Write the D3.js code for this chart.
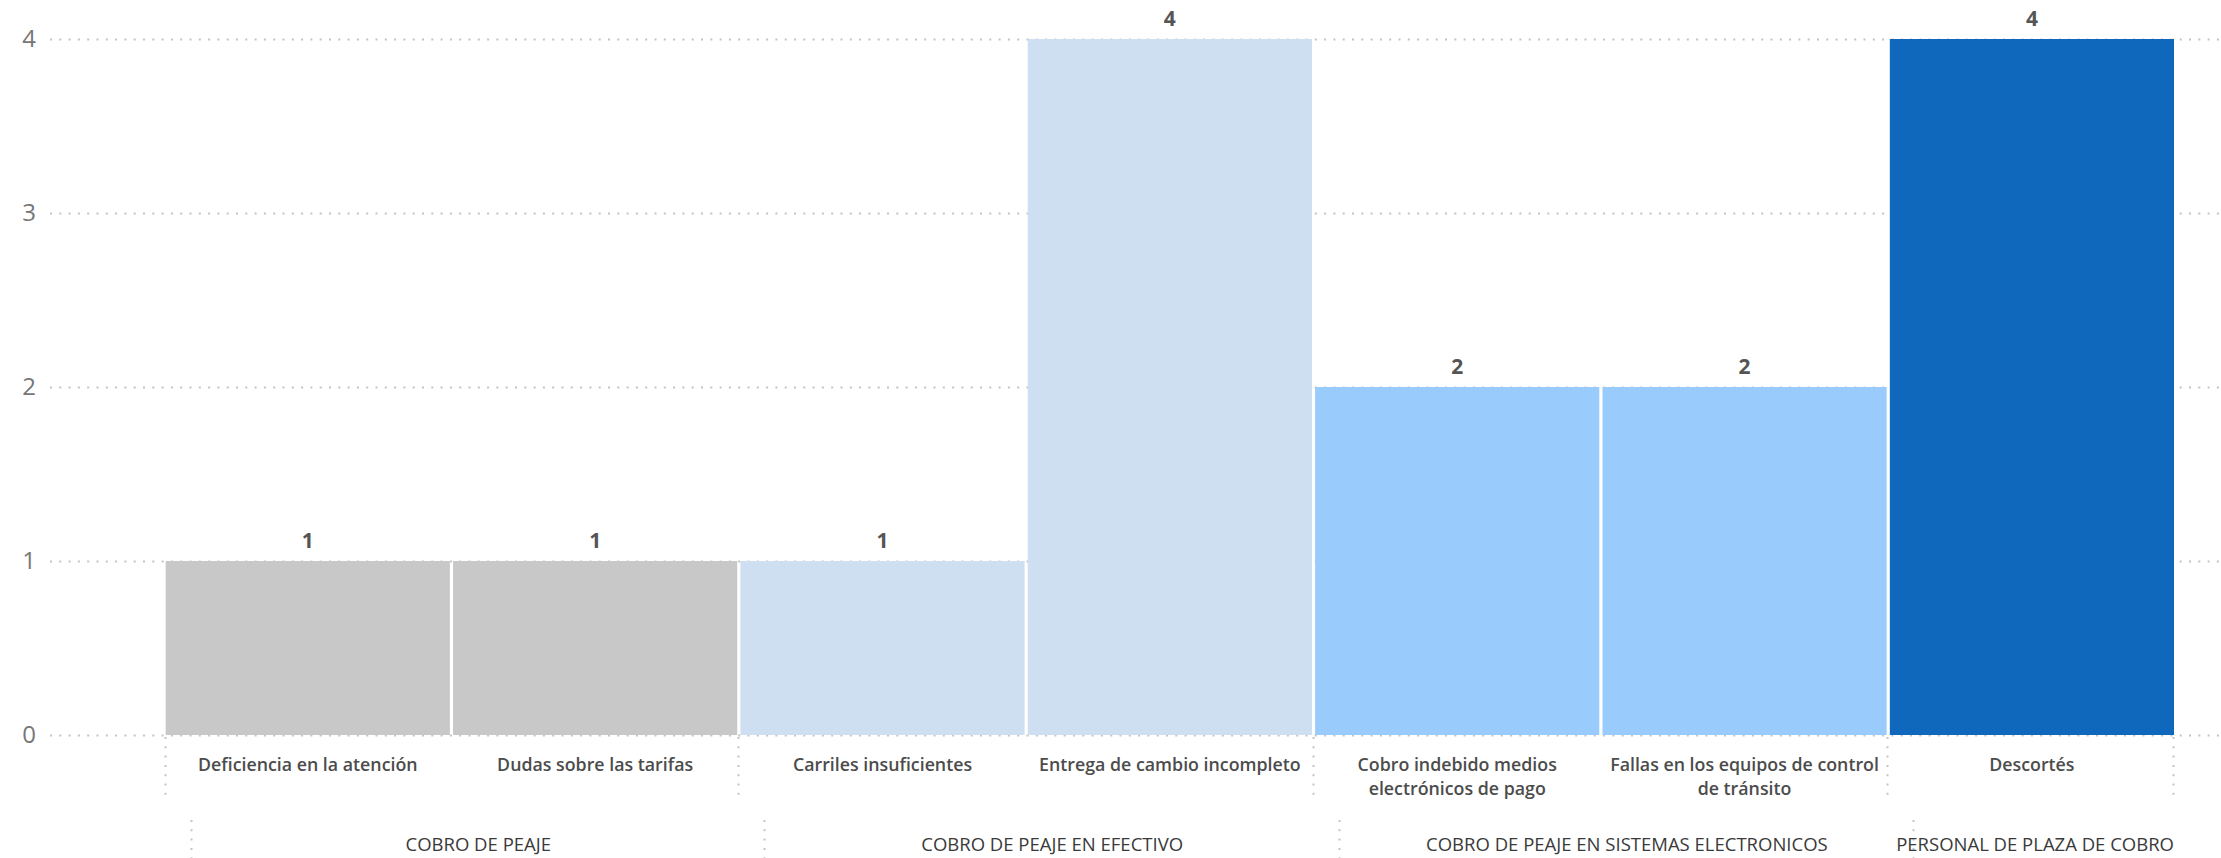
<!DOCTYPE html>
<html>
<head>
<meta charset="utf-8">
<script src="https://cdn.jsdelivr.net/npm/d3@7"></script>
<style>
  html, body { margin: 0; padding: 0; background: #ffffff; }
  svg { display: block; font-family: "Segoe UI", "Open Sans", "Noto Sans", sans-serif; }
</style>
</head>
<body>
<svg id="chart" width="2221" height="858"></svg>
<script>
// Complaint categories grouped by toll-collection area
const groups = [
  "COBRO DE PEAJE",
  "COBRO DE PEAJE EN EFECTIVO",
  "COBRO DE PEAJE EN SISTEMAS ELECTRONICOS",
  "PERSONAL DE PLAZA DE COBRO"
];
const categories = [
  "Deficiencia en la atención",
  "Dudas sobre las tarifas",
  "Carriles insuficientes",
  "Entrega de cambio incompleto",
  "Cobro indebido medios electrónicos de pago",
  "Fallas en los equipos de control de tránsito",
  "Descortés"
];
const categoryGroup = [0, 0, 1, 1, 2, 2, 3];
const values = [1, 1, 1, 4, 2, 2, 4];
const groupColors = ["#c8c8c8", "#cddff0", "#99cbfd", "#1068bd"];
const yTicks = [0, 1, 2, 3, 4];

// Two-line wrapping for the longer category names
const categoryLines = [
  ["Deficiencia en la atención"],
  ["Dudas sobre las tarifas"],
  ["Carriles insuficientes"],
  ["Entrega de cambio incompleto"],
  ["Cobro indebido medios", "electrónicos de pago"],
  ["Fallas en los equipos de control", "de tránsito"],
  ["Descortés"]
];

const svg = d3.select("#chart");
const plot = { left: 165.7, right: 2174, top: 39, bottom: 735 };

const x = d3.scaleBand()
  .domain(categories)
  .range([plot.left, plot.right])
  .paddingInner(0.011)
  .paddingOuter(0.0);

const y = d3.scaleLinear()
  .domain([0, 4])
  .range([plot.bottom, plot.top]);

const gridColor = "#c4c4c4";

// Horizontal dotted gridlines
svg.append("g")
  .selectAll("line")
  .data(yTicks)
  .join("line")
  .attr("x1", 50)
  .attr("x2", 2221)
  .attr("y1", d => Math.round(y(d)) + 0.5)
  .attr("y2", d => Math.round(y(d)) + 0.5)
  .attr("stroke", gridColor)
  .attr("stroke-width", 2)
  .attr("stroke-dasharray", "2,7.3");

// Y axis labels
const yAxis = d3.axisLeft(y).tickValues(yTicks).tickSize(0).tickPadding(0).tickFormat(d3.format("d"));
svg.append("g")
  .attr("transform", "translate(36,0)")
  .call(yAxis)
  .call(g => g.select(".domain").remove())
  .call(g => g.selectAll("text")
    .attr("font-size", 24)
    .attr("font-family", "'Segoe UI', 'Open Sans', sans-serif")
    .attr("fill", "#777777"));

// Bars
svg.append("g")
  .selectAll("rect")
  .data(categories)
  .join("rect")
  .attr("x", d => x(d))
  .attr("width", x.bandwidth())
  .attr("y", (d, i) => y(values[i]))
  .attr("height", (d, i) => y(0) - y(values[i]))
  .attr("fill", (d, i) => groupColors[categoryGroup[i]]);

// Value labels above bars
svg.append("g")
  .selectAll("text")
  .data(categories)
  .join("text")
  .attr("x", d => x(d) + x.bandwidth() / 2)
  .attr("y", (d, i) => y(values[i]) - 13)
  .attr("text-anchor", "middle")
  .attr("font-size", 21)
  .attr("font-weight", 700)
  .attr("fill", "#555555")
  .text((d, i) => values[i]);

// Category labels
const step = x.step();
const catLabels = svg.append("g")
  .selectAll("text")
  .data(categories)
  .join("text")
  .attr("x", d => x(d) + x.bandwidth() / 2)
  .attr("y", 771)
  .attr("text-anchor", "middle")
  .attr("font-size", 17.8)
  .attr("font-weight", 600)
  .attr("fill", "#4c4c4c");
catLabels.each(function(d, i) {
  const t = d3.select(this);
  categoryLines[i].forEach((line, k) => {
    t.append("tspan")
      .attr("x", x(d) + x.bandwidth() / 2)
      .attr("dy", k === 0 ? 0 : 24)
      .text(line);
  });
});

// Group extents along the x scale
const groupExtents = groups.map((g, gi) => {
  const members = categories.filter((c, i) => categoryGroup[i] === gi);
  const start = x(members[0]) - (step - x.bandwidth()) / 2;
  const end = x(members[members.length - 1]) + x.bandwidth() + (step - x.bandwidth()) / 2;
  return { start: Math.max(start, plot.left), end: Math.min(end, plot.right) };
});

// Dotted dividers in the category row
const catDividers = [groupExtents[0].start].concat(groupExtents.map(e => e.end));
svg.append("g")
  .selectAll("line")
  .data(catDividers)
  .join("line")
  .attr("x1", d => Math.round(d) - 0.5)
  .attr("x2", d => Math.round(d) - 0.5)
  .attr("y1", 737)
  .attr("y2", 796)
  .attr("stroke", gridColor)
  .attr("stroke-width", 2)
  .attr("stroke-dasharray", "2,7.3");

// Group row, shifted slightly right
const groupShift = 26;
svg.append("g")
  .selectAll("line")
  .data(groupExtents)
  .join("line")
  .attr("x1", d => Math.round(d.start + groupShift) - 0.5)
  .attr("x2", d => Math.round(d.start + groupShift) - 0.5)
  .attr("y1", 820)
  .attr("y2", 858)
  .attr("stroke", gridColor)
  .attr("stroke-width", 2)
  .attr("stroke-dasharray", "2,7.3");

svg.append("g")
  .selectAll("text")
  .data(groups)
  .join("text")
  .attr("y", 851)
  .attr("text-anchor", "middle")
  .attr("font-size", 18.5)
  .attr("font-weight", 500)
  .attr("fill", "#3a3a3a")
  .text(d => d)
  .each(function(d, gi) {
    const e = groupExtents[gi];
    const w = this.getComputedTextLength();
    let cx = (e.start + e.end) / 2 + groupShift;
    cx = Math.min(cx, plot.right - w / 2);
    d3.select(this).attr("x", cx);
  });
</script>
</body>
</html>
